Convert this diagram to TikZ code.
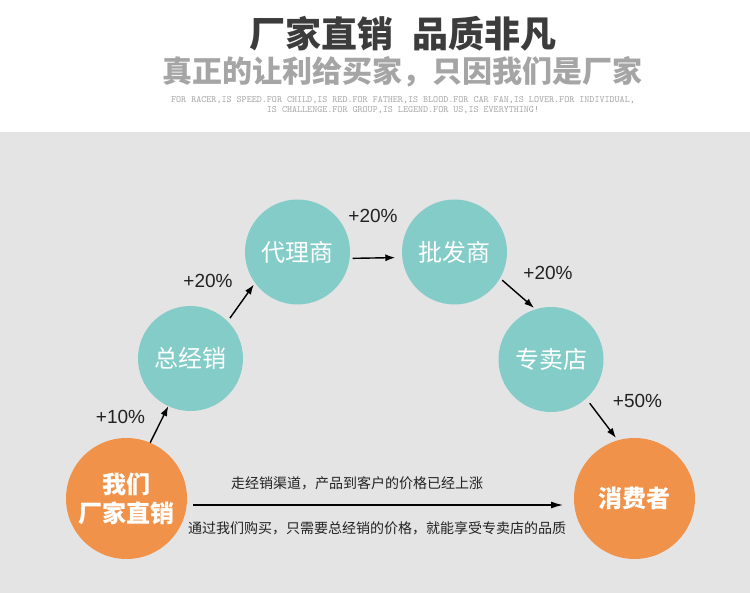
\documentclass[tikz,border=0pt]{standalone}
\usepackage{fontspec}
\newfontfamily\cjk{Noto Sans CJK SC}
\newfontfamily\latin{Liberation Sans}
\usepackage{xcolor}
\usepackage{tikz}
\usetikzlibrary{arrows.meta,positioning}
\definecolor{ink}{HTML}{222222}
\definecolor{tealfill}{HTML}{84CCC8}
\definecolor{tangerine}{HTML}{F0924A}
\definecolor{panel}{HTML}{E4E4E4}
\definecolor{titlegray}{HTML}{3C3C3C}
\definecolor{subgray}{HTML}{A5A5A5}
\tikzset{
  >=Latex,
  every node/.style={text=ink},
  stage/.style={circle,fill=tealfill,minimum size=105pt,inner sep=0pt,outer sep=0pt,text=white,font=\cjk\fontsize{24}{28}\selectfont},
  endpt/.style={stage,fill=tangerine,minimum size=121pt,align=center,font=\cjk\bfseries\fontsize{24}{29}\selectfont},
  arrow/.style={-{Latex[length=10pt,width=7pt]},line width=1.4pt,draw=black},
  longarrow/.style={-{Latex[length=12pt,width=7pt]},line width=1.3pt,draw=black},
  pct/.style={font=\latin\fontsize{19}{22}\selectfont},
  remark/.style={font=\cjk\fontsize{14}{16}\selectfont}
}

\begin{document}
\begin{tikzpicture}[x=1pt,y=-1pt]
  \useasboundingbox (0,0) rectangle (750,593);
  \fill[white] (0,0) rectangle (750,132);
  \fill[panel] (0,132) rectangle (750,593);

  \node[font=\cjk\bfseries\fontsize{36}{40}\selectfont,text=titlegray] (title) at (403,34) {厂家直销\hspace{19pt}品质非凡};
  \node[font=\cjk\bfseries\fontsize{30}{34}\selectfont,text=subgray] (slogan) at (402,72) {真正的让利给买家，只因我们是厂家};
  \node[font=\ttfamily\fontsize{9.6}{10.5}\selectfont,text=subgray,align=center] (motto) at (403,105) {FOR RACER,IS SPEED.FOR CHILD,IS RED.FOR FATHER,IS BLOOD.FOR CAR FAN,IS LOVER.FOR INDIVIDUAL,\\IS CHALLENGE.FOR GROUP,IS LEGEND.FOR US,IS EVERYTHING!};

  \node[endpt] (us) at (126.5,498.5) {我们\\厂家直销};
  \node[stage] (general) at (190.5,358.5) {总经销};
  \node[stage] (agent) at (297.5,252) {代理商};
  \node[stage] (wholesale) at (454.5,252) {批发商};
  \node[stage] (store) at (551,359.5) {专卖店};
  \node[endpt] (buyer) at (634.5,498.5) {消费者};

  \draw[arrow] (us.67)--(general.245);
  \draw[arrow,shorten <=4pt,shorten >=2pt] (general.45)--(agent.216);
  \draw[arrow,shorten <=3pt,shorten >=7pt] (agent.-7)--(wholesale.186);
  \draw[arrow,shorten <=3pt,shorten >=2pt] (wholesale.-30)--(store.107);
  \draw[arrow,shorten <=6pt,shorten >=3pt] (store.-48)--(buyer.106);

  \node[pct] (pctgeneral) at (120.5,417) {+10\%};
  \node[pct] (pctagent) at (208,281) {+20\%};
  \node[pct] (pctwholesale) at (373,216) {+20\%};
  \node[pct] (pctstore) at (548,273) {+20\%};
  \node[pct] (pctbuyer) at (637.5,400.5) {+50\%};

  \draw[longarrow,shorten <=6pt,shorten >=11pt] ([yshift=-6.5pt]us.east)--([yshift=-6.5pt]buyer.west)
    node[remark,midway,yshift=22pt,xshift=-23.5pt] (channel) {走经销渠道，产品到客户的价格已经上涨}
    node[remark,midway,yshift=-23pt,xshift=-3.5pt] (direct) {通过我们购买，只需要总经销的价格，就能享受专卖店的品质};
\end{tikzpicture}
\end{document}
